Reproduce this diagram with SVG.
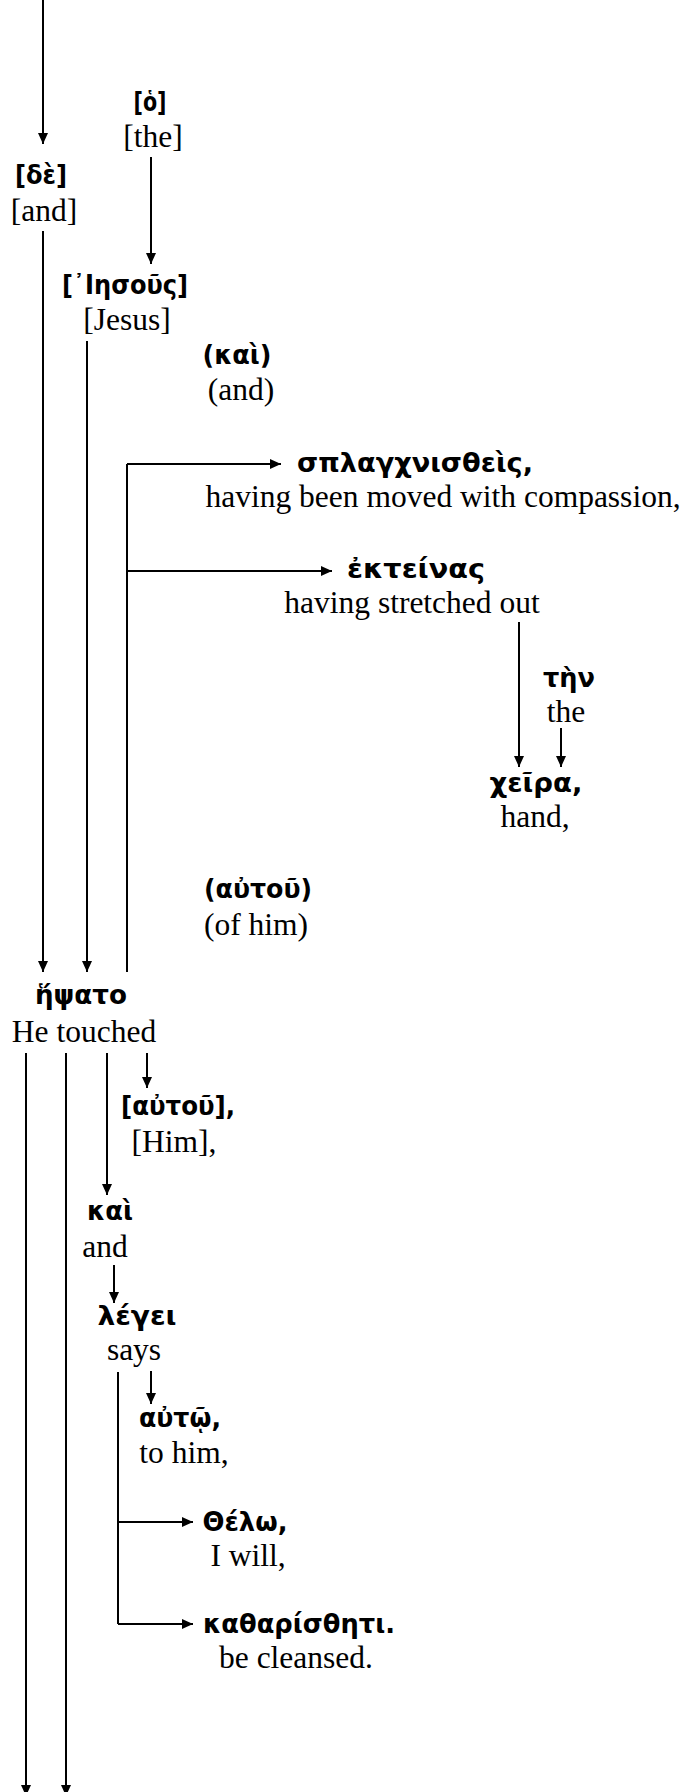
<svg xmlns="http://www.w3.org/2000/svg" width="686" height="1792" viewBox="0 0 686 1792">
<style>
.g{font-family:"DejaVu Sans","Noto Sans",sans-serif;font-weight:bold;font-size:26px;fill:#000;text-anchor:middle}
.e{font-family:"Liberation Serif","Times New Roman",serif;font-size:31.5px;fill:#000;text-anchor:middle}
.c{stroke:#000;stroke-width:2;fill:none}
</style>
<defs>
<marker id="ah" markerUnits="userSpaceOnUse" markerWidth="12" markerHeight="10" refX="11" refY="5" orient="auto">
<path d="M0,0 L11,5 L0,10 z" fill="#000"/>
</marker>
</defs>
<rect width="686" height="1792" fill="#fff"/>
<g id="connectors">
<path class="c" d="M43,0 V144" marker-end="url(#ah)"/>
<path class="c" d="M151,157 V264" marker-end="url(#ah)"/>
<path class="c" d="M43,231 V972" marker-end="url(#ah)"/>
<path class="c" d="M87,341 V972" marker-end="url(#ah)"/>
<path class="c" d="M127,972 V464"/>
<path class="c" d="M127,464 H281" marker-end="url(#ah)"/>
<path class="c" d="M127,571 H332" marker-end="url(#ah)"/>
<path class="c" d="M519,622 V767" marker-end="url(#ah)"/>
<path class="c" d="M561,728 V767" marker-end="url(#ah)"/>
<path class="c" d="M26,1053 V1796" marker-end="url(#ah)"/>
<path class="c" d="M66,1053 V1796" marker-end="url(#ah)"/>
<path class="c" d="M107,1053 V1195" marker-end="url(#ah)"/>
<path class="c" d="M147,1053 V1088" marker-end="url(#ah)"/>
<path class="c" d="M114,1265 V1303" marker-end="url(#ah)"/>
<path class="c" d="M118,1372 V1624"/>
<path class="c" d="M118,1522 H193" marker-end="url(#ah)"/>
<path class="c" d="M118,1624 H193" marker-end="url(#ah)"/>
<path class="c" d="M151,1371 V1404" marker-end="url(#ah)"/>
</g>
<g id="n-ho"><text class="g" x="150" y="111" textLength="33" lengthAdjust="spacingAndGlyphs">[ὁ]</text><text class="e" x="153" y="147">[the]</text></g>
<g id="n-de"><text class="g" x="41" y="184" textLength="52" lengthAdjust="spacingAndGlyphs">[δὲ]</text><text class="e" x="44" y="221">[and]</text></g>
<g id="n-iesous"><text class="g" x="125" y="294" textLength="126" lengthAdjust="spacingAndGlyphs">[᾽Ιησοῦς]</text><text class="e" x="127" y="330">[Jesus]</text></g>
<g id="n-kai1"><text class="g" x="237" y="364" textLength="69" lengthAdjust="spacingAndGlyphs">(καὶ)</text><text class="e" x="241" y="400">(and)</text></g>
<g id="n-splagch"><text class="g" x="415" y="472" textLength="236" lengthAdjust="spacingAndGlyphs">σπλαγχνισθεὶς,</text><text class="e" x="443" y="507">having been moved with compassion,</text></g>
<g id="n-ekteinas"><text class="g" x="416" y="578" textLength="138" lengthAdjust="spacingAndGlyphs">ἐκτείνας</text><text class="e" x="412" y="613">having stretched out</text></g>
<g id="n-ten"><text class="g" x="569" y="687" textLength="52" lengthAdjust="spacingAndGlyphs">τὴν</text><text class="e" x="566" y="722">the</text></g>
<g id="n-cheira"><text class="g" x="536" y="792" textLength="93" lengthAdjust="spacingAndGlyphs">χεῖρα,</text><text class="e" x="535" y="827">hand,</text></g>
<g id="n-autou1"><text class="g" x="258" y="898" textLength="108" lengthAdjust="spacingAndGlyphs">(αὐτοῦ)</text><text class="e" x="256" y="935">(of him)</text></g>
<g id="n-hepsato"><text class="g" x="81" y="1004" textLength="92" lengthAdjust="spacingAndGlyphs">ἥψατο</text><text class="e" x="84" y="1042">He touched</text></g>
<g id="n-autou2"><text class="g" x="178" y="1115" textLength="114" lengthAdjust="spacingAndGlyphs">[αὐτοῦ],</text><text class="e" x="174" y="1152">[Him],</text></g>
<g id="n-kai2"><text class="g" x="110" y="1220" textLength="46" lengthAdjust="spacingAndGlyphs">καὶ</text><text class="e" x="105" y="1257">and</text></g>
<g id="n-legei"><text class="g" x="137" y="1325" textLength="79" lengthAdjust="spacingAndGlyphs">λέγει</text><text class="e" x="134" y="1360">says</text></g>
<g id="n-auto"><text class="g" x="180" y="1427" textLength="82" lengthAdjust="spacingAndGlyphs">αὐτῷ,</text><text class="e" x="184" y="1463">to him,</text></g>
<g id="n-thelo"><text class="g" x="245" y="1531" textLength="85" lengthAdjust="spacingAndGlyphs">Θέλω,</text><text class="e" x="248" y="1566">I will,</text></g>
<g id="n-kathar"><text class="g" x="299" y="1633" textLength="192" lengthAdjust="spacingAndGlyphs">καθαρίσθητι.</text><text class="e" x="296" y="1668">be cleansed.</text></g>
</svg>
